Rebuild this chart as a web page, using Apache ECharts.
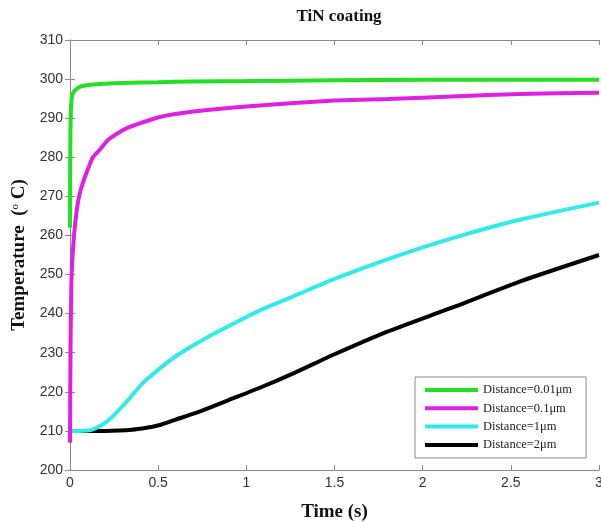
<!DOCTYPE html>
<html>
<head>
<meta charset="utf-8">
<script src="https://cdn.jsdelivr.net/npm/echarts@6/dist/echarts.min.js"></script>
<style>
  html, body { margin: 0; padding: 0; background: #fff; }
  #chart { width: 601px; height: 522px; }
</style>
</head>
<body>
<div id="chart"></div>
<script>
// ---- data ----
const seriesNames = ["Distance=0.01\u03bcm", "Distance=0.1\u03bcm", "Distance=1\u03bcm", "Distance=2\u03bcm"];

const time001 = [0, 0.002, 0.005, 0.01, 0.02, 0.04, 0.06, 0.1, 0.15, 0.2, 0.3, 0.5, 0.7, 1.0, 1.5, 2.0, 2.5, 3.0];
const temp001 = [262, 285, 292, 295.3, 296.7, 297.6, 298.1, 298.5, 298.7, 298.8, 299.0, 299.2, 299.4, 299.5, 299.7, 299.8, 299.8, 299.8];

const time01 = [0, 0.003, 0.008, 0.015, 0.028, 0.045, 0.06, 0.085, 0.13, 0.17, 0.22, 0.32, 0.51, 0.7, 1.0, 1.5, 1.8, 2.2, 2.55, 3.0];
const temp01 = [207, 232, 248, 255, 262.5, 268.5, 271.5, 275, 280, 282, 284.6, 287.4, 290.3, 291.7, 293.0, 294.5, 294.9, 295.6, 296.2, 296.5];

const time1 = [0, 0.05, 0.1, 0.13, 0.18, 0.23, 0.32, 0.41, 0.51, 0.6, 0.7, 0.8, 0.9, 1.08, 1.27, 1.5, 1.8, 2.17, 2.55, 3.0];
const temp1 = [210, 210, 210.1, 210.4, 211.5, 213.2, 217.4, 222.1, 226, 229.1, 231.9, 234.5, 236.8, 240.9, 244.5, 248.9, 253.9, 259.3, 264.0, 268.4];

const time2 = [0, 0.1, 0.2, 0.28, 0.35, 0.41, 0.51, 0.6, 0.7, 0.8, 0.9, 1.08, 1.27, 1.5, 1.8, 2.17, 2.55, 3.0];
const temp2 = [210, 210, 210, 210.1, 210.3, 210.6, 211.5, 212.9, 214.4, 216.1, 217.9, 221.1, 224.8, 229.6, 235.4, 241.6, 248.2, 255];

const colors = ["#22e022", "#e020e0", "#33eaea", "#000000"];

// ---- chart ----
const SERIF = "'Liberation Serif', 'DejaVu Serif', serif";
const SANS = "'Liberation Sans', Arial, sans-serif";

const pairs = (xs, ys) => xs.map((x, i) => [x, ys[i]]);
const allData = [pairs(time001, temp001), pairs(time01, temp01), pairs(time1, temp1), pairs(time2, temp2)];

const chart = echarts.init(document.getElementById("chart"), null, { renderer: "canvas" });

const axisLine = { show: true, lineStyle: { color: "#8a8a8a", width: 1 } };
const tick = { show: true, inside: true, length: 5, lineStyle: { color: "#8a8a8a" } };

chart.setOption({
  backgroundColor: "#fff",
  animation: false,
  title: {
    text: "TiN coating",
    left: 334,
    top: 3,
    textAlign: "center",
    textStyle: { fontFamily: SERIF, fontWeight: "bold", fontSize: 17, color: "#111" },
  },
  legend: {
    orient: "vertical",
    left: 415,
    top: 377,
    data: seriesNames,
    icon: "rect",
    itemWidth: 53,
    itemHeight: 4,
    itemGap: 4.3,
    padding: [6, 14, 6, 10],
    backgroundColor: "#fff",
    borderColor: "#8a8a8a",
    borderWidth: 1,
    borderRadius: 0,
    textStyle: { fontFamily: SERIF, fontSize: 12.5, color: "#222", lineHeight: 14 },
  },
  grid: { left: 70, right: 2, top: 40, bottom: 52, outerBoundsMode: "none" },
  xAxis: [
    {
      type: "value",
      min: 0,
      max: 3,
      interval: 0.5,
      name: "Time (s)",
      nameLocation: "middle",
      nameGap: 33,
      nameTextStyle: { fontFamily: SERIF, fontWeight: "bold", fontSize: 19, color: "#111" },
      axisLine: axisLine,
      axisTick: tick,
      splitLine: { show: false },
      axisLabel: {
        fontFamily: SANS, fontSize: 14, color: "#333", margin: 6,
        formatter: (v) => String(v),
      },
    },
    {
      type: "value", position: "top", min: 0, max: 3, interval: 0.5,
      axisLine: axisLine, axisTick: tick, axisLabel: { show: false }, splitLine: { show: false },
    },
  ],
  yAxis: [
    {
      type: "value",
      min: 200,
      max: 310,
      interval: 10,
      name: "{n|Temperature  (}{s|o}{n| C)}",
      nameLocation: "middle",
      nameGap: 31,
      nameTextStyle: {
        rich: {
          n: { fontFamily: SERIF, fontWeight: "bold", fontSize: 19, color: "#111" },
          s: { fontFamily: SERIF, fontSize: 11, color: "#111", padding: [0, 0, 9, 0] },
        },
      },
      axisLine: axisLine,
      axisTick: tick,
      splitLine: { show: false },
      axisLabel: { fontFamily: SANS, fontSize: 14, color: "#333", margin: 7 },
    },
    {
      type: "value", position: "right", min: 200, max: 310, interval: 10,
      axisLine: axisLine, axisTick: tick, axisLabel: { show: false }, splitLine: { show: false },
    },
  ],
  series: seriesNames.map((name, i) => ({
    name: name,
    type: "line",
    data: allData[i],
    showSymbol: false,
    smooth: 0.2,
    clip: true,
    color: colors[i],
    lineStyle: { color: colors[i], width: 4 },
    z: 4 - i,
  })),
});
</script>
</body>
</html>
